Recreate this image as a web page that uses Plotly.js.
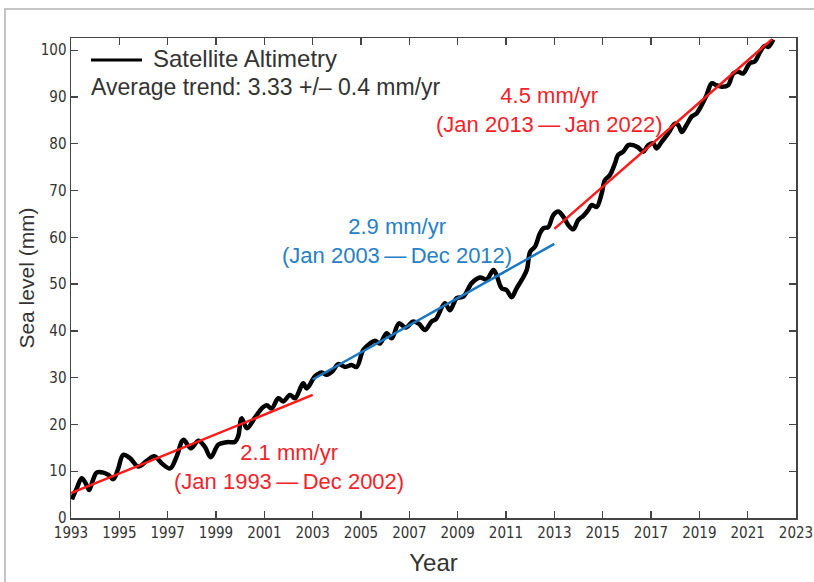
<!DOCTYPE html>
<html>
<head>
<meta charset="utf-8">
<script src="https://cdn.plot.ly/plotly-3.0.1.min.js"></script>
<style>
  html, body { margin: 0; padding: 0; background: #fff; }
  #wrap { position: relative; width: 814px; height: 582px; }
  #chart { width: 814px; height: 582px; }
  #frame { position: absolute; left: 4px; top: 8px; right: -4px; bottom: -4px;
           border-top: 2px solid #c4c4c4; border-left: 2px solid #c4c4c4; pointer-events: none; }
</style>
</head>
<body>
<div id="wrap"><div id="chart"></div><div id="frame"></div></div>
<script>
// Satellite altimetry sea level (mm), decimal year
const years = [1993.04,1993.25,1993.44,1993.6,1993.75,1993.9,1994.06,1994.34,1994.55,1994.75,1994.95,1995.16,1995.44,1995.78,1996.13,1996.45,1996.75,1997.1,1997.37,1997.65,1997.96,1998.27,1998.54,1998.78,1999.1,1999.44,1999.79,1999.92,2000.06,2000.28,2000.6,2000.89,2001.1,2001.3,2001.58,2001.78,2002.06,2002.27,2002.61,2002.75,2003.1,2003.37,2003.58,2003.81,2004.06,2004.34,2004.61,2004.82,2005.09,2005.37,2005.58,2005.78,2006.06,2006.27,2006.57,2006.85,2007.16,2007.4,2007.65,2007.92,2008.1,2008.47,2008.68,2008.96,2009.23,2009.58,2009.92,2010.2,2010.48,2010.61,2010.82,2011.03,2011.23,2011.44,2011.65,2011.86,2012.0,2012.2,2012.4,2012.54,2012.75,2012.95,2013.16,2013.37,2013.58,2013.78,2013.99,2014.2,2014.4,2014.54,2014.75,2014.96,2015.09,2015.3,2015.51,2015.64,2015.85,2016.06,2016.26,2016.47,2016.68,2016.89,2017.09,2017.23,2017.44,2017.71,2017.99,2018.13,2018.27,2018.47,2018.68,2018.89,2019.09,2019.3,2019.51,2019.71,2019.92,2020.19,2020.4,2020.61,2020.81,2021.09,2021.3,2021.51,2021.71,2021.85,2022.06];
const seaLevel = [4.0,6.5,8.5,7.5,6.0,8.0,9.7,9.7,9.2,8.3,10.5,13.5,12.8,11.0,12.2,13.2,11.7,10.6,13.1,16.7,14.9,16.5,15.2,13.0,15.7,16.2,16.3,17.5,21.3,19.2,21.4,23.4,24.1,23.4,25.6,24.9,26.3,25.6,28.8,27.7,30.3,31.1,30.6,31.3,32.9,32.3,32.7,32.3,35.9,37.3,37.9,37.3,39.5,38.4,41.6,40.7,42.0,41.5,40.2,42.0,42.5,45.9,44.4,47.0,47.3,50.2,51.4,51.0,53.0,51.9,49.1,48.7,47.2,49.1,50.9,53.0,56.9,58.0,60.8,61.9,62.2,64.7,65.5,64.4,62.6,61.7,63.7,64.6,65.8,66.9,66.5,69.4,72.2,73.3,75.8,77.6,78.3,79.7,79.7,79.2,78.3,79.7,80.1,79.0,80.4,82.2,84.3,84.0,82.5,84.0,85.8,86.5,88.2,90.4,92.9,92.5,92.2,92.5,95.0,95.4,95.0,97.2,97.6,99.6,100.9,100.7,102.3];

// Trend segments: [start year, end year], [start mm, end mm]
const trend1Years = [1993, 2003];   const trend1Values = [5.3, 26.3];
const trend2Years = [2003, 2013];   const trend2Values = [29.6, 58.6];
const trend3Years = [2013, 2022];   const trend3Values = [61.8, 102.3];

const trendLabels = [
  {text: '2.1 mm/yr<br>(Jan 1993\u2009\u2014\u2009Dec 2002)', x: 2002.02, y: 10.9, color: '#f2232b'},
  {text: '2.9 mm/yr<br>(Jan 2003\u2009\u2014\u2009Dec 2012)', x: 2006.49, y: 59.3, color: '#2580c6'},
  {text: '4.5 mm/yr<br>(Jan 2013\u2009\u2014\u2009Jan 2022)', x: 2012.82, y: 87.2, color: '#f2232b'}
];

const seriesName = 'Satellite Altimetry';
const averageTrendText = 'Average trend: 3.33 +/\u2013 0.4 mm/yr';

const xTickVals = [1993,1995,1997,1999,2001,2003,2005,2007,2009,2011,2013,2015,2017,2019,2021,2023];
const xTickText = xTickVals.map(String);
const yTickVals = [0,10,20,30,40,50,60,70,80,90,100];

const RED = '#ff1a1a', BLUE = '#1a78c2';
const narrow = '"Liberation Sans Narrow", "DejaVu Sans Condensed", "Arial Narrow", sans-serif';
const sans = '"Liberation Sans", Arial, Helvetica, sans-serif';

const traces = [
  {x: years, y: seaLevel, type: 'scatter', mode: 'lines', name: seriesName,
   line: {color: '#000', width: 4.5, shape: 'spline', smoothing: 1}, showlegend: false},
  {x: trend1Years, y: trend1Values, mode: 'lines', line: {color: RED, width: 2.5}, showlegend: false, hoverinfo: 'skip'},
  {x: trend2Years, y: trend2Values, mode: 'lines', line: {color: BLUE, width: 2.5}, showlegend: false, hoverinfo: 'skip'},
  {x: trend3Years, y: trend3Values, mode: 'lines', line: {color: RED, width: 2.5}, showlegend: false, hoverinfo: 'skip'}
];

const axisCommon = {
  showgrid: false, zeroline: false, showline: true, linecolor: '#444', linewidth: 1.5,
  mirror: 'ticks', ticks: 'inside', ticklen: 7, tickwidth: 1.3, tickcolor: '#444',
  ticklabeloverflow: 'allow',
  tickfont: {family: narrow, size: 15, color: '#333'}
};

const layout = {
  width: 814, height: 582,
  margin: {l: 71, r: 18, t: 38, b: 64},
  paper_bgcolor: 'rgba(0,0,0,0)', plot_bgcolor: '#fff',
  xaxis: Object.assign({}, axisCommon, {
    range: [1993, 2023], tickvals: xTickVals, ticktext: xTickText,
    title: {text: 'Year', font: {family: sans, size: 24, color: '#333'}, standoff: 13}
  }),
  yaxis: Object.assign({}, axisCommon, {
    range: [0, 102.6], tickvals: yTickVals,
    title: {text: 'Sea level (mm)', font: {family: sans, size: 21, color: '#333'}, standoff: 0}
  }),
  showlegend: false,
  // legend key (sample of the black series line)
  shapes: [{type: 'line', xref: 'paper', yref: 'paper', x0: 0.0276, x1: 0.0979, y0: 0.954, y1: 0.954,
            line: {color: '#000', width: 3}}],
  annotations: trendLabels.map(l => ({
    text: l.text, x: l.x, y: l.y, xref: 'x', yref: 'y', showarrow: false,
    align: 'center', font: {family: sans, size: 22, color: l.color}
  })).concat([{
    text: seriesName, xref: 'paper', yref: 'paper',
    x: 0.111, y: 0.957, xanchor: 'left', yanchor: 'middle', showarrow: false,
    font: {family: sans, size: 24, color: '#333'}
  }, {
    text: averageTrendText, xref: 'paper', yref: 'paper',
    x: 0.025, y: 0.898, xanchor: 'left', yanchor: 'middle', showarrow: false,
    font: {family: sans, size: 23, color: '#333'}
  }])
};

Plotly.newPlot('chart', traces, layout, {displayModeBar: false, staticPlot: true});
</script>
</body>
</html>
